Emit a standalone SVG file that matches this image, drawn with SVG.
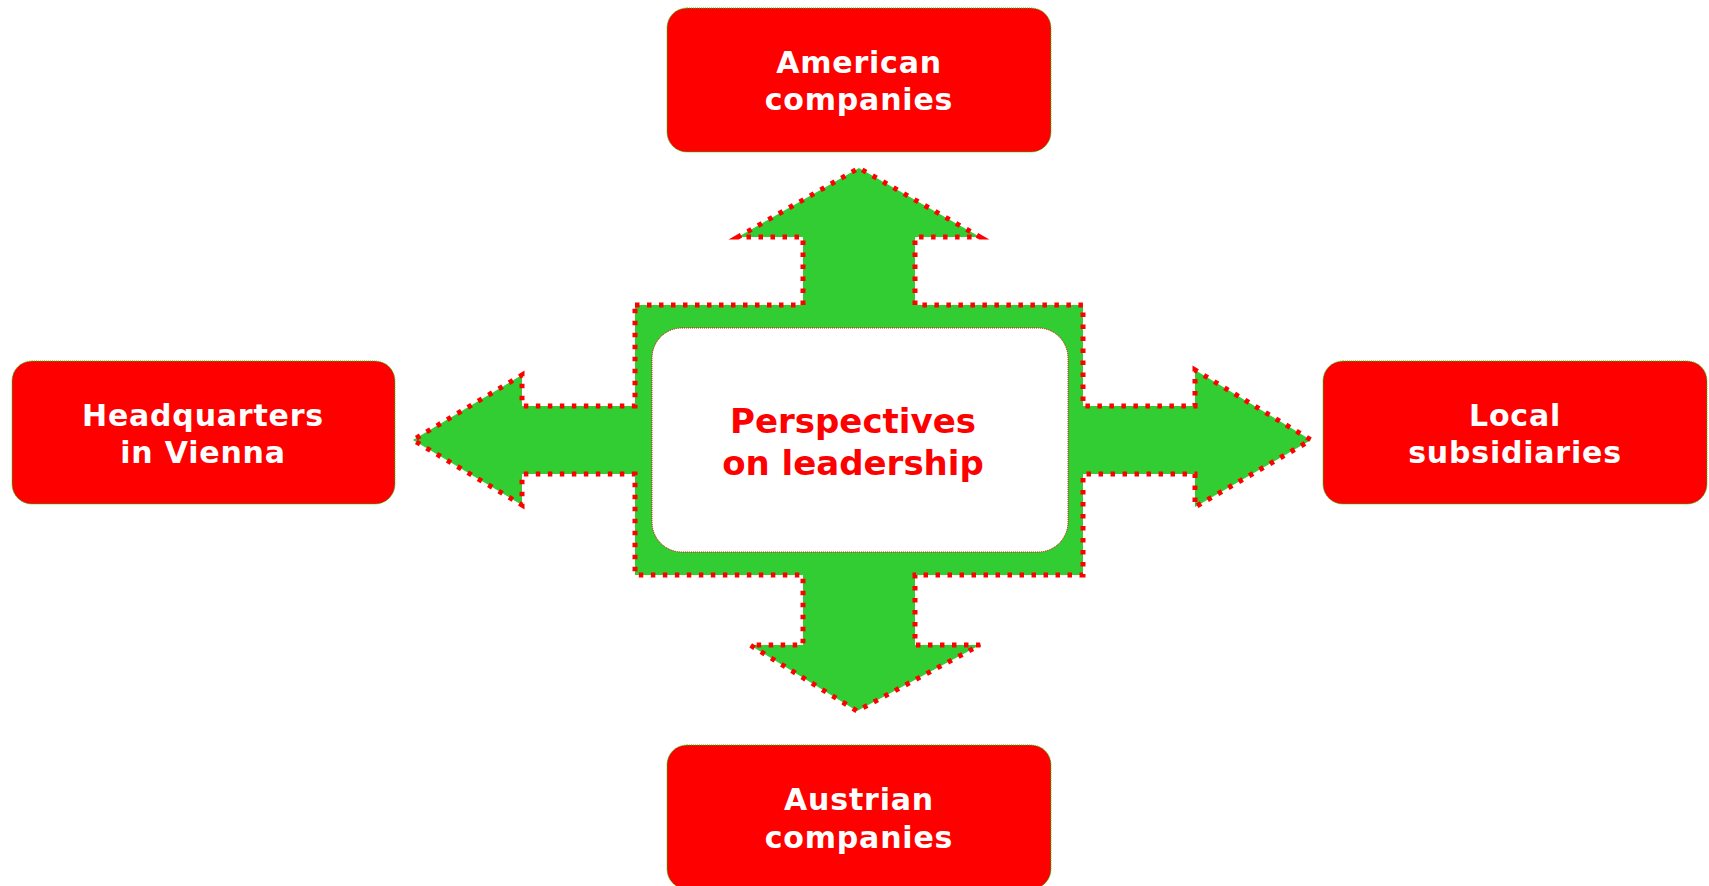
<svg xmlns="http://www.w3.org/2000/svg" width="1709" height="886" viewBox="0 0 1709 886">
  <style>
    .box { fill: #FF0000; stroke: #00E000; stroke-width: 1; stroke-dasharray: 1 1; }
    .label { font-family: "DejaVu Sans", Verdana, sans-serif; font-weight: bold; font-size: 30px; letter-spacing: 0.8px; fill: #FFFFFF; text-anchor: middle; }
    .hub { fill: #32CD32; stroke: #FF0000; stroke-width: 5; stroke-dasharray: 4.5 7.5; stroke-linejoin: miter; }
    .core { fill: #FFFFFF; stroke: #FF0000; stroke-width: 1; stroke-dasharray: 1 1; }
    .title { font-family: "DejaVu Sans", Verdana, sans-serif; font-weight: bold; font-size: 34px; fill: #FF0000; text-anchor: middle; }
  </style>
  <rect width="1709" height="886" fill="#FFFFFF"/>

  <!-- four-way arrow cross around the central topic -->
  <g id="connectors">
    <path class="hub" d="M635,305 L803,305 L803,237 L738,237 L859,168 L980,237 L915,237 L915,305 L1083,305 L1083,406 L1195,406 L1195,370 L1311,440 L1195,507 L1195,474 L1083,474 L1083,575 L915,575 L915,645 L980,645 L857,711 L750,645 L803,645 L803,575 L635,575 L635,474 L522,474 L522,505 L413,440 L522,375 L522,406 L635,406 Z"/>
  </g>

  <g id="node-center">
    <rect class="core" x="652" y="328" width="416" height="224" rx="30" ry="30"/>
    <text class="title" x="853" y="433">Perspectives</text>
    <text class="title" x="853" y="475">on leadership</text>
  </g>

  <g id="node-american">
    <rect class="box" x="667" y="8" width="384" height="144" rx="20" ry="20"/>
    <text class="label" x="859" y="73">American</text>
    <text class="label" x="859" y="110">companies</text>
  </g>

  <g id="node-headquarters">
    <rect class="box" x="12" y="361" width="383" height="143" rx="20" ry="20"/>
    <text class="label" x="203" y="426">Headquarters</text>
    <text class="label" x="203" y="463">in Vienna</text>
  </g>

  <g id="node-local">
    <rect class="box" x="1323" y="361" width="384" height="143" rx="20" ry="20"/>
    <text class="label" x="1515" y="426">Local</text>
    <text class="label" x="1515" y="463">subsidiaries</text>
  </g>

  <g id="node-austrian">
    <rect class="box" x="667" y="745" width="384" height="144" rx="20" ry="20"/>
    <text class="label" x="859" y="810">Austrian</text>
    <text class="label" x="859" y="848">companies</text>
  </g>
</svg>
